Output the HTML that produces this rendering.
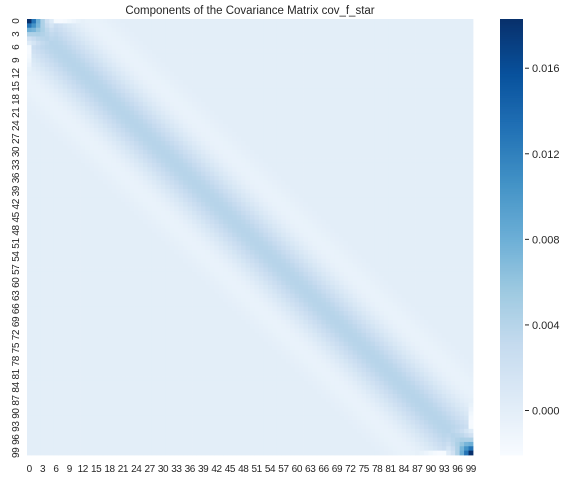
<!DOCTYPE html>
<html><head><meta charset="utf-8"><style>
body{margin:0;background:#fff;width:567px;height:482px;overflow:hidden;font-family:"Liberation Sans",sans-serif}
</style></head><body>
<svg id="chart" width="567" height="482" xmlns="http://www.w3.org/2000/svg" font-family="Liberation Sans, sans-serif">
<text x="250" y="14" text-anchor="middle" font-size="11.5" fill="#262626">Components of the Covariance Matrix cov_f_star</text>
<g id="cells"></g>
<g id="xticks"></g>
<g id="yticks"></g>
<g id="cbar"></g>
</svg>
<script>
const N = 100;
// covariance value by lag |i-j| (interior of matrix)
const lagValues = [0.0040,0.0039,0.0037,0.0034,0.0030,0.0025,0.0020,0.0015,0.0010,0.0006,0.0002,-0.0001,-0.0004,-0.0006,-0.0007,-0.0007,-0.0006,-0.0005,-0.0003,-0.0002,-0.0001];
const backgroundValue = 0.0;
// top-left corner block values (rows/cols 0..5)
const cornerValues = [
 [0.0183,0.0130,0.0080,0.0045,0.0020,0.0005],
 [0.0130,0.0105,0.0075,0.0045,0.0028,0.0015],
 [0.0080,0.0075,0.0060,0.0047,0.0035,0.0025],
 [0.0045,0.0045,0.0047,0.0043,0.0038,0.0032],
 [0.0020,0.0028,0.0035,0.0038,0.0040,0.0036],
 [0.0005,0.0015,0.0025,0.0032,0.0036,0.0040]
];
// edge values for first column/row (rows 4..12) — whitish strip
const edgeValues = [-0.0008,-0.0015,-0.0019,-0.0020,-0.0018,-0.0014,-0.0010,-0.0006,-0.0003];
const xTickLabels = Array.from({length:34},(_, k)=>String(k*3));
const cbarTicks = [0.000,0.004,0.008,0.012,0.016];
const cbarTickLabels = ["0.000","0.004","0.008","0.012","0.016"];
const vmin = -0.00208, vmax = 0.0183;

const X0=27, Y0=19, W=446, H=436, cw=W/N, ch=H/N;
const blues=["#f7fbff","#deebf7","#c6dbef","#9ecae1","#6baed6","#4292c6","#2171b5","#08519c","#08306b"];
function hex(h){return [1,3,5].map(i=>parseInt(h.substr(i,2),16));}
const bl=blues.map(hex);
function color(v){let t=(v-vmin)/(vmax-vmin);t=Math.max(0,Math.min(1,t))*(bl.length-1);
 const i=Math.min(Math.floor(t),bl.length-2),f=t-i;
 return "rgb("+[0,1,2].map(k=>Math.round(bl[i][k]+(bl[i+1][k]-bl[i][k])*f)).join(",")+")";}
function value(i,j){
 let a=i,b=j;
 if(i>=N/2&&j>=N/2){a=N-1-i;b=N-1-j;}
 if(a<cornerValues.length&&b<cornerValues.length) return cornerValues[a][b];
 const d=Math.abs(a-b);
 let v = d<lagValues.length?lagValues[d]:backgroundValue;
 const m=Math.min(a,b);
 if(m===0){const o=Math.max(a,b)-4;if(o>=0&&o<edgeValues.length)v=edgeValues[o];}
 return v;
}
const xs=i=>X0+i*cw, ys=j=>Y0+j*ch;
const NS="http://www.w3.org/2000/svg";
const cells=document.getElementById("cells");
for(let r=0;r<N;r++)for(let c=0;c<N;c++){
 const el=document.createElementNS(NS,"rect");
 
 
 el.setAttribute("x",xs(c).toFixed(2));el.setAttribute("y",ys(r).toFixed(2));
 el.setAttribute("width",(cw+0.4).toFixed(2));el.setAttribute("height",(ch+0.4).toFixed(2));
 el.setAttribute("fill",color(value(r,c)));cells.appendChild(el);
}
const xt=document.getElementById("xticks"),yt=document.getElementById("yticks");
xTickLabels.forEach(l=>{const k=+l;
 const t=document.createElementNS(NS,"text");
 
 
 t.setAttribute("x",xs(k)+cw/2);t.setAttribute("y",472);t.setAttribute("text-anchor","middle");
 t.setAttribute("font-size","10");t.setAttribute("letter-spacing","-0.4");t.setAttribute("fill","#262626");t.textContent=l;xt.appendChild(t);
 const u=document.createElementNS(NS,"text");
 
 
 const cy=ys(k)+ch/2;
 u.setAttribute("transform","translate(19,"+cy+") rotate(-90)");u.setAttribute("text-anchor","middle");
 u.setAttribute("font-size","10");u.setAttribute("letter-spacing","-0.4");u.setAttribute("fill","#262626");u.textContent=l;yt.appendChild(u);
});
const cb=document.getElementById("cbar");
const CX=500,CW=23,steps=200;
const cys=v=>Y0+H-(v-vmin)/(vmax-vmin)*H;
for(let s=0;s<steps;s++){
 const v=vmin+(s+0.5)/steps*(vmax-vmin);
 const el=document.createElementNS(NS,"rect");
 
 
 el.setAttribute("x",CX);el.setAttribute("y",(Y0+H-(s+1)*H/steps).toFixed(2));
 el.setAttribute("width",CW);el.setAttribute("height",(H/steps+0.4).toFixed(2));
 el.setAttribute("fill",color(v));cb.appendChild(el);
}
cbarTicks.forEach((v,k)=>{const y=cys(v);
 const ln=document.createElementNS(NS,"line");
 
 
 ln.setAttribute("x1",CX+CW+2);ln.setAttribute("x2",CX+CW+6);ln.setAttribute("y1",y);ln.setAttribute("y2",y);
 ln.setAttribute("stroke","#262626");cb.appendChild(ln);
 const t=document.createElementNS(NS,"text");
 
 
 t.setAttribute("x",CX+CW+9);t.setAttribute("y",y+4);t.setAttribute("font-size","11");t.setAttribute("fill","#262626");
 t.textContent=cbarTickLabels[k];cb.appendChild(t);
});
</script>
</body></html>
